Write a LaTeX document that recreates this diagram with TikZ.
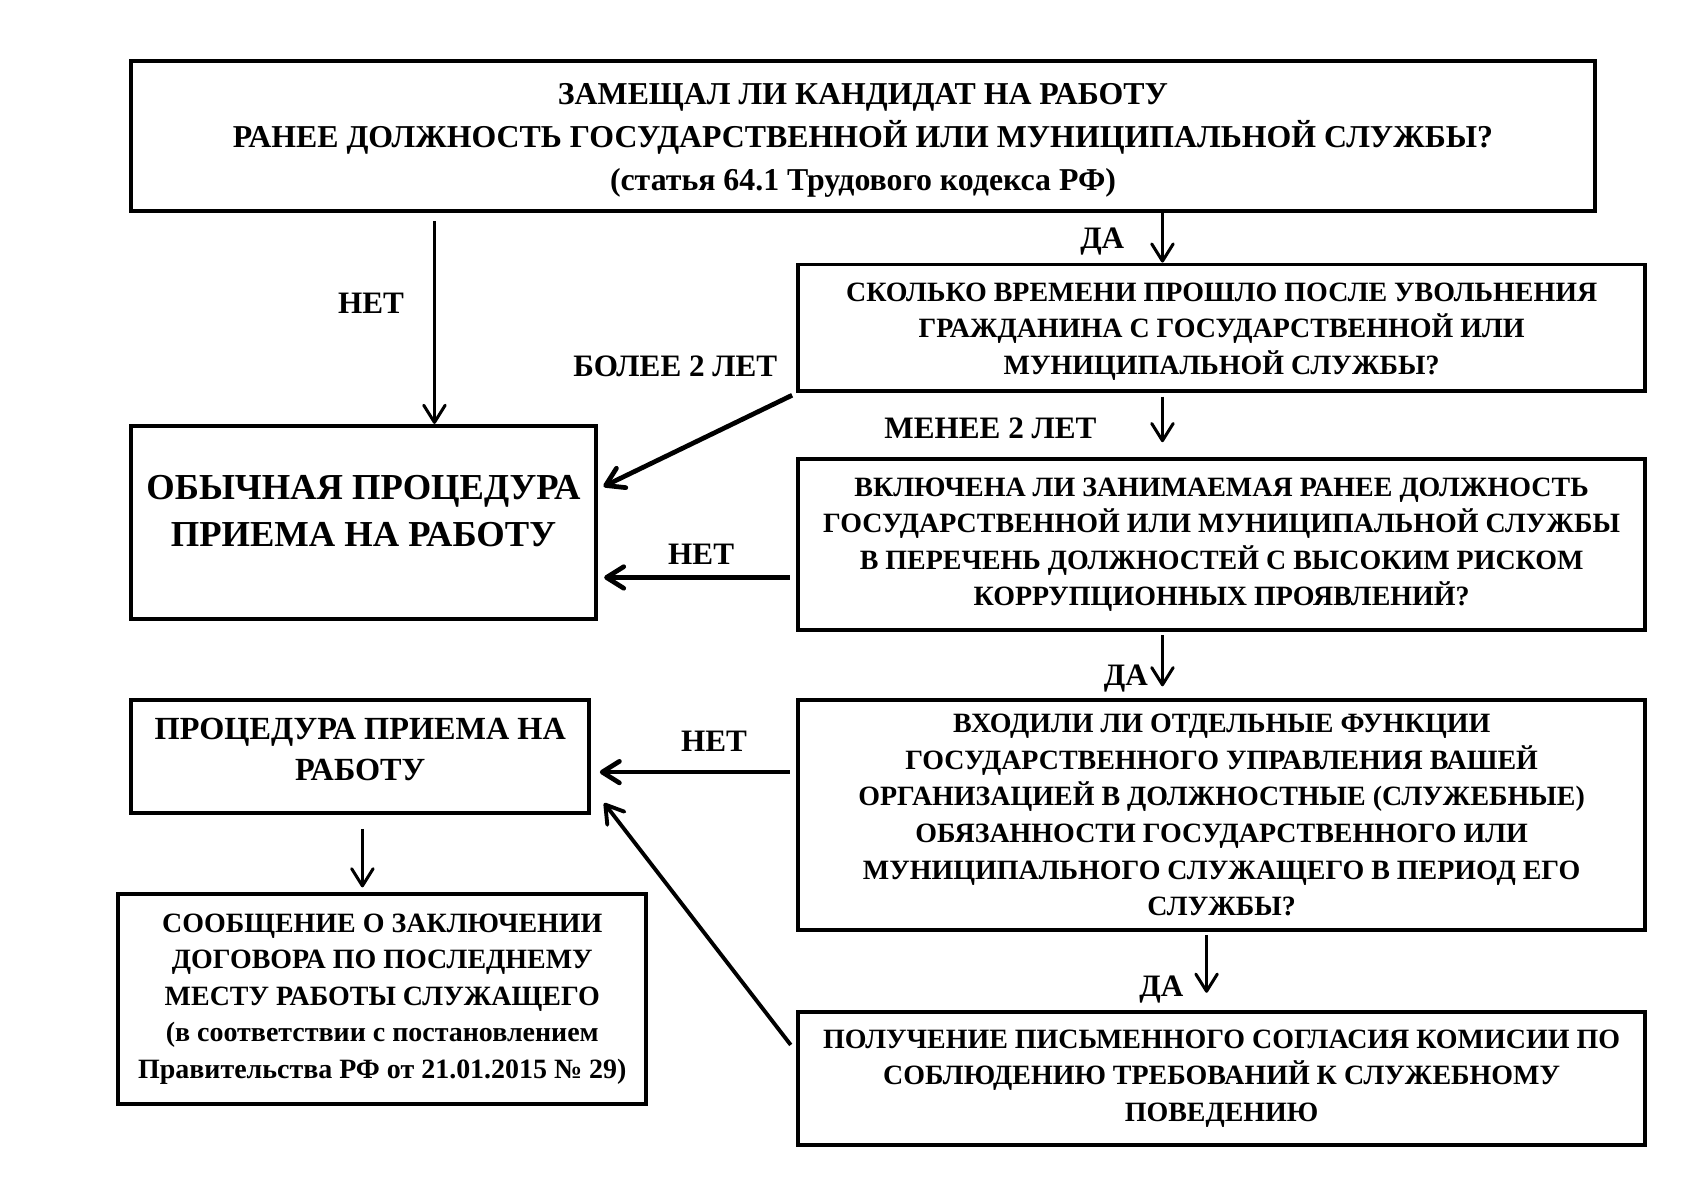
\documentclass[tikz,border=0pt]{standalone}
\usepackage{fontspec}
\setmainfont{Liberation Serif}
\usetikzlibrary{arrows.meta,positioning}

\begin{document}
\begin{tikzpicture}[x=0.5pt, y=-0.5pt, every node/.style={font=\bfseries\fontsize{13}{17}\selectfont, align=center}, question/.style={rectangle, draw=black, line width=1.8pt, inner sep=0pt}, line/.style={-{Straight Barb[length=8pt,width=10pt,line cap=round,line join=round]}, line width=1.4pt}, thickline/.style={line, line width=2.2pt}, answer/.style={inner sep=0pt, font=\bfseries\fontsize{14.5}{17}\selectfont}]
\useasboundingbox (0,0) rectangle (1566,1108);
\node[question, minimum width=680.5pt, minimum height=69.5pt, font=\bfseries\fontsize{14.8}{20}\selectfont] (candidate) at (802.5,126.5) {\rule{0pt}{14pt}ЗАМЕЩАЛ ЛИ КАНДИДАТ НА РАБОТУ\\РАНЕЕ ДОЛЖНОСТЬ ГОСУДАРСТВЕННОЙ ИЛИ МУНИЦИПАЛЬНОЙ СЛУЖБЫ?\\(статья 64.1 Трудового кодекса РФ)};
\node[question, minimum width=394pt, minimum height=59pt] (elapsed) at (1136,305) {\rule{0pt}{12pt}СКОЛЬКО ВРЕМЕНИ ПРОШЛО ПОСЛЕ УВОЛЬНЕНИЯ\\ГРАЖДАНИНА С ГОСУДАРСТВЕННОЙ ИЛИ\\МУНИЦИПАЛЬНОЙ СЛУЖБЫ?};
\node[question, minimum width=216pt, minimum height=90pt, font=\bfseries\fontsize{17}{22}\selectfont] (usual) at (338,486) {ОБЫЧНАЯ ПРОЦЕДУРА\\ПРИЕМА НА РАБОТУ\\[-11pt]};
\node[question, minimum width=394pt, minimum height=79.5pt] (listed) at (1136,506.5) {ВКЛЮЧЕНА ЛИ ЗАНИМАЕМАЯ РАНЕЕ ДОЛЖНОСТЬ\\ГОСУДАРСТВЕННОЙ ИЛИ МУНИЦИПАЛЬНОЙ СЛУЖБЫ\\В ПЕРЕЧЕНЬ ДОЛЖНОСТЕЙ С ВЫСОКИМ РИСКОМ\\КОРРУПЦИОННЫХ ПРОЯВЛЕНИЙ?};
\node[question, minimum width=213pt, minimum height=52.5pt, font=\bfseries\fontsize{15}{19}\selectfont] (hiring) at (335,703.5) {ПРОЦЕДУРА ПРИЕМА НА\\РАБОТУ\\[-12.5pt]};
\node[question, minimum width=394pt, minimum height=107pt] (functions) at (1136,758) {ВХОДИЛИ ЛИ ОТДЕЛЬНЫЕ ФУНКЦИИ\\ГОСУДАРСТВЕННОГО УПРАВЛЕНИЯ ВАШЕЙ\\ОРГАНИЗАЦИЕЙ В ДОЛЖНОСТНЫЕ (СЛУЖЕБНЫЕ)\\ОБЯЗАННОСТИ ГОСУДАРСТВЕННОГО ИЛИ\\МУНИЦИПАЛЬНОГО СЛУЖАЩЕГО В ПЕРИОД ЕГО\\СЛУЖБЫ?};
\node[question, minimum width=245.5pt, minimum height=98pt] (report) at (355.5,929) {СООБЩЕНИЕ О ЗАКЛЮЧЕНИИ\\ДОГОВОРА ПО ПОСЛЕДНЕМУ\\МЕСТУ РАБОТЫ СЛУЖАЩЕГО\\(в соответствии с постановлением\\Правительства РФ от 21.01.2015 № 29)};
\node[question, minimum width=394pt, minimum height=62pt] (consent) at (1136,1003) {ПОЛУЧЕНИЕ ПИСЬМЕННОГО СОГЛАСИЯ КОМИСИИ ПО\\СОБЛЮДЕНИЮ ТРЕБОВАНИЙ К СЛУЖЕБНОМУ\\ПОВЕДЕНИЮ};

% answers
\node[answer] (yes1) at (1025,225) {ДА};
\node[answer] (no1) at (345,282) {НЕТ};
\node[answer] (over2) at (628,341) {БОЛЕЕ 2 ЛЕТ};
\node[answer] (under2) at (921,398) {МЕНЕЕ 2 ЛЕТ};
\node[answer] (no2) at (652,515) {НЕТ};
\node[answer] (yes2) at (1047,631) {ДА};
\node[answer] (no3) at (664,689) {НЕТ};
\node[answer] (yes3) at (1080,920) {ДА};

\coordinate (yesX) at (1081,0);
\coordinate (noX) at (404,0);
\coordinate (lastX) at (1122,0);
\coordinate (reportX) at (337,0);
\coordinate (fromListed) at ([yshift=-15.25pt]listed.west);
\coordinate (fromFunctions) at ([yshift=20pt]functions.west);

\draw[line] (candidate.south -| yesX) -- (elapsed.north -| yesX);
\draw[line, shorten <=4pt] (candidate.south -| noX) -- (usual.north -| noX);
\draw[thickline, shorten <=2pt, shorten >=3pt] (elapsed.south west) -- ([yshift=15.5pt]usual.east);
\draw[line, shorten <=1.5pt, shorten >=7pt] (elapsed.south -| yesX) -- (listed.north -| yesX);
\draw[thickline, shorten <=3pt, shorten >=3pt] (fromListed) -- (fromListed -| usual.east);
\draw[line, shorten <=1.5pt, shorten >=5.5pt] (listed.south -| yesX) -- (functions.north -| yesX);
\draw[thickline, shorten <=3pt, shorten >=4pt] (fromFunctions) -- (fromFunctions -| hiring.east);
\draw[line, shorten <=1.5pt, shorten >=8pt] (functions.south -| lastX) -- (consent.north -| lastX);
\draw[line, shorten <=6.5pt, shorten >=2pt] (hiring.south -| reportX) -- (report.north -| reportX);
\draw[line, line width=1.8pt, shorten <=4pt] ([yshift=12.5pt]consent.west) -- ([xshift=6pt,yshift=5.5pt]hiring.south east);
\end{tikzpicture}
\end{document}
